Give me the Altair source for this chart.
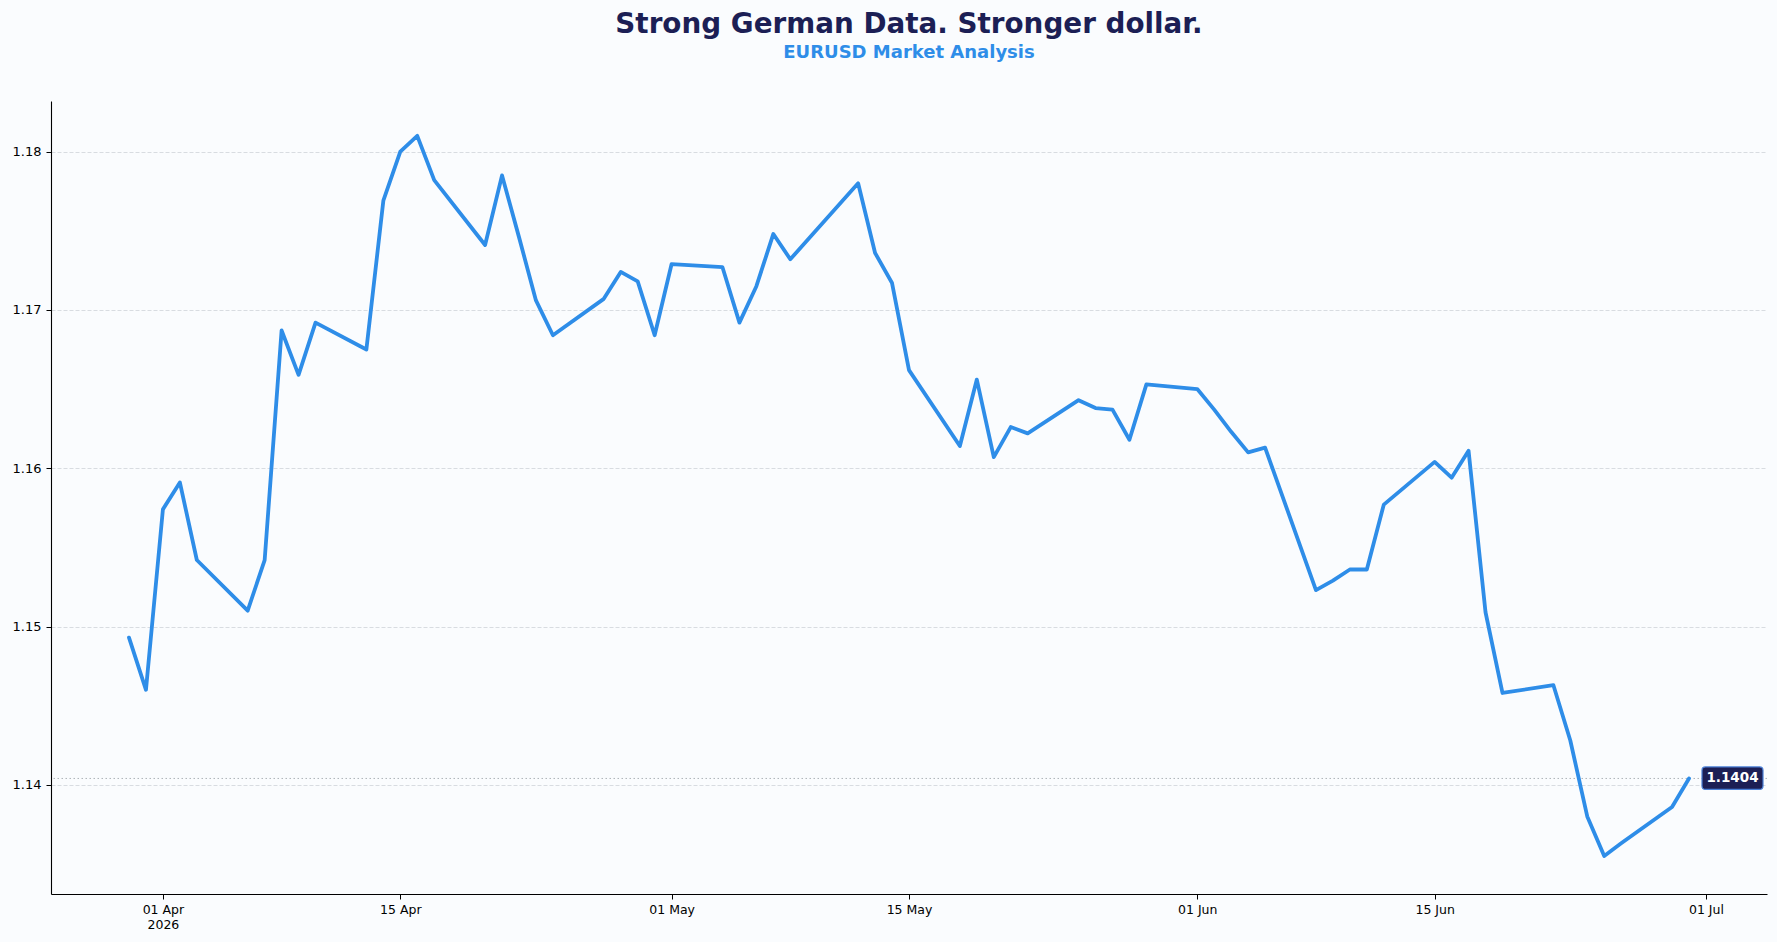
import altair as alt
import pandas as pd

# ---- data ----
dates = [
    "2026-03-30", "2026-03-31",
    "2026-04-01", "2026-04-02", "2026-04-03",
    "2026-04-06", "2026-04-07", "2026-04-08", "2026-04-09", "2026-04-10",
    "2026-04-13", "2026-04-14", "2026-04-15", "2026-04-16", "2026-04-17",
    "2026-04-20", "2026-04-21", "2026-04-22", "2026-04-23", "2026-04-24",
    "2026-04-27", "2026-04-28", "2026-04-29", "2026-04-30", "2026-05-01",
    "2026-05-04", "2026-05-05", "2026-05-06", "2026-05-07", "2026-05-08",
    "2026-05-11", "2026-05-12", "2026-05-13", "2026-05-14", "2026-05-15",
    "2026-05-18", "2026-05-19", "2026-05-20", "2026-05-21", "2026-05-22",
    "2026-05-25", "2026-05-26", "2026-05-27", "2026-05-28", "2026-05-29",
    "2026-06-01", "2026-06-02", "2026-06-03", "2026-06-04", "2026-06-05",
    "2026-06-08", "2026-06-09", "2026-06-10", "2026-06-11", "2026-06-12",
    "2026-06-15", "2026-06-16", "2026-06-17", "2026-06-18", "2026-06-19",
    "2026-06-22", "2026-06-23", "2026-06-24", "2026-06-25", "2026-06-26",
    "2026-06-29", "2026-06-30",
]
eurusd = [
    1.1493, 1.1460,
    1.1574, 1.1591, 1.1542,
    1.1510, 1.1542, 1.1687, 1.1659, 1.1692,
    1.1675, 1.1769, 1.1800, 1.1810, 1.1782,
    1.1741, 1.1785, 1.1746, 1.1706, 1.1684,
    1.1707, 1.1724, 1.1718, 1.1684, 1.1729,
    1.1727, 1.1692, 1.1715, 1.1748, 1.1732,
    1.1768, 1.1780, 1.1736, 1.1717, 1.1662,
    1.1614, 1.1656, 1.1607, 1.1626, 1.1622,
    1.1643, 1.1638, 1.1637, 1.1618, 1.1653,
    1.1650, 1.1637, 1.1623, 1.1610, 1.1613,
    1.1523, 1.1529, 1.1536, 1.1536, 1.1577,
    1.1604, 1.1594, 1.1611, 1.1509, 1.1458,
    1.1463, 1.1428, 1.1380, 1.1355, 1.1363,
    1.1386, 1.1404,
]
y_ticks = [1.14, 1.15, 1.16, 1.17, 1.18]
x_tick_dates = [(4, 1), (4, 15), (5, 1), (5, 15), (6, 1), (6, 15), (7, 1)]

title_text = "Strong German Data. Stronger dollar."
subtitle_text = "EURUSD Market Analysis"

NAVY = "#1c1f55"
BLUE = "#2e8de8"
FONT = "DejaVu Sans"

df = pd.DataFrame({"date": [d + "T00:00:00" for d in dates], "value": eurusd})
last = df.iloc[[-1]].copy()

x_scale = alt.Scale(domain=[
    alt.DateTime(year=2026, month=3, date=25, hours=9, minutes=36),
    alt.DateTime(year=2026, month=7, date=4, hours=14, minutes=24),
])
y_scale = alt.Scale(domain=[1.1331, 1.1832], zero=False, nice=False)

x_axis = alt.Axis(
    title=None,
    values=[alt.DateTime(year=2026, month=m, date=d) for m, d in x_tick_dates],
    labelExpr="(month(datum.value) == 3 && date(datum.value) == 1) ? [timeFormat(datum.value, '%d %b'), '2026'] : timeFormat(datum.value, '%d %b')",
    grid=False,
    domainColor="black",
    domainWidth=1.1,
    tickColor="black",
    tickSize=5,
    tickWidth=1,
    labelPadding=4,
    labelFont=FONT,
    labelFontSize=12.5,
    labelColor="black",
    labelLineHeight=15,
)
y_axis = alt.Axis(
    title=None,
    values=y_ticks,
    format=".2f",
    grid=True,
    gridColor="#cfd3d9",
    gridDash=[4, 2],
    gridWidth=0.8,
    domainColor="black",
    domainWidth=1.1,
    tickColor="black",
    tickSize=5,
    tickWidth=1,
    labelPadding=5,
    labelFont=FONT,
    labelFontSize=13,
    labelColor="black",
)

base = alt.Chart(df)

line = base.mark_line(color=BLUE, strokeWidth=3.8, strokeJoin="round", strokeCap="round").encode(
    x=alt.X("date:T", scale=x_scale, axis=x_axis),
    y=alt.Y("value:Q", scale=y_scale, axis=y_axis),
)

last_rule = alt.Chart(last).mark_rule(color="#9aa0a6", strokeDash=[1.5, 2.5], strokeWidth=1, opacity=0.8).encode(
    y=alt.Y("value:Q", scale=y_scale),
)

box = alt.Chart(last).mark_rect(
    xOffset=13, x2Offset=74, yOffset=-11.5, y2Offset=11,
    cornerRadius=3.5, fill=NAVY, stroke="#4a7fd6", strokeWidth=1.2,
).encode(
    x=alt.X("date:T", scale=x_scale),
    x2=alt.X2("date:T"),
    y=alt.Y("value:Q", scale=y_scale),
    y2=alt.Y2("value:Q"),
)

label = alt.Chart(last).mark_text(
    dx=43.5, align="center", baseline="middle", color="white",
    font=FONT, fontWeight="bold", fontSize=13.5,
).encode(
    x=alt.X("date:T", scale=x_scale),
    y=alt.Y("value:Q", scale=y_scale),
    text=alt.Text("value:Q", format=".4f"),
)

chart = alt.layer(last_rule, line, box, label).properties(
    width=1716,
    height=793,
    title=alt.TitleParams(
        text=title_text,
        subtitle=subtitle_text,
        anchor="middle",
        font=FONT,
        fontSize=27.8,
        fontWeight="bold",
        color=NAVY,
        subtitleFont=FONT,
        subtitleFontSize=18,
        subtitleFontWeight="bold",
        subtitleColor=BLUE,
        subtitlePadding=5,
        offset=39,
    ),
    autosize=alt.AutoSizeParams(type="none"),
    padding={"left": 51, "top": 101, "right": 10, "bottom": 48},
    background="#fafcfe",
).configure_view(stroke=None)

chart.save("out.html", embed_options={"renderer": "svg", "actions": False})
